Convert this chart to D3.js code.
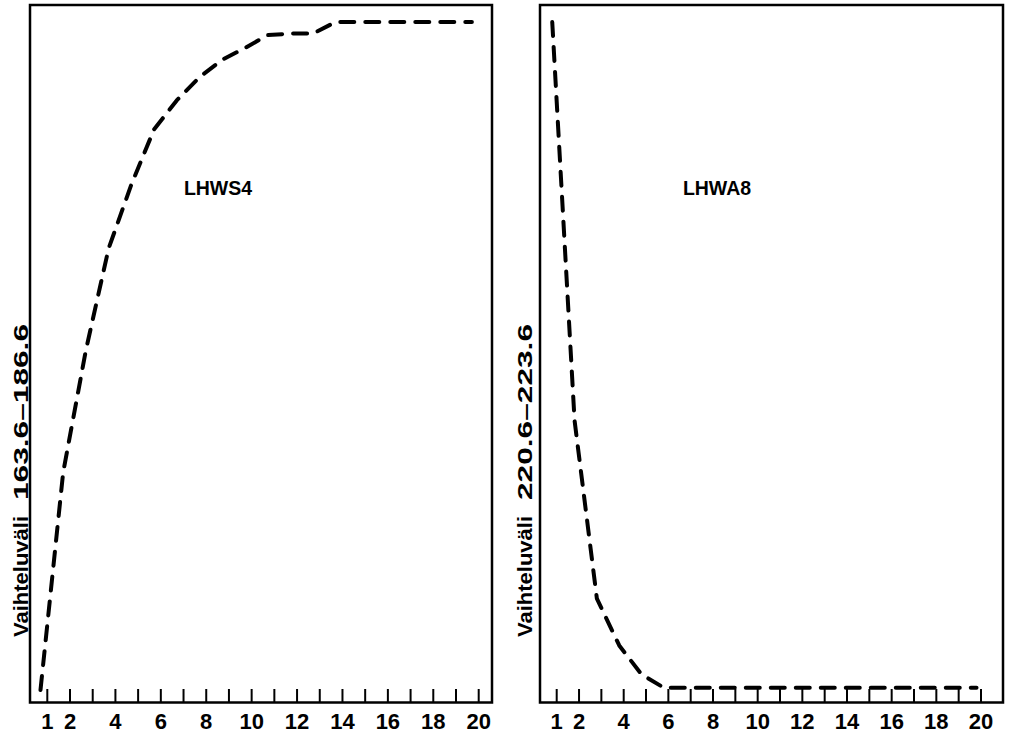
<!DOCTYPE html>
<html>
<head>
<meta charset="utf-8">
<script src="https://cdn.jsdelivr.net/npm/d3@7"></script>
<style>
  body { margin: 0; background: #fff; }
  svg { display: block; }
  text { font-family: "Liberation Sans", Arial, sans-serif; font-weight: bold; fill: #000; }
</style>
</head>
<body>
<svg id="chart"></svg>
<script>
// Two small panels: range of a measure vs. number of repeats (1..20)

var steps = d3.range(1, 21);
var tickLabels = [1, 2, 4, 6, 8, 10, 12, 14, 16, 18, 20];

// LHWS4, range 163.6-186.6
var lhws4 = [163.6, 171.1, 175.3, 178.8, 181.0, 182.9, 183.9, 184.7, 185.3, 185.7,
             186.15, 186.2, 186.2, 186.6, 186.6, 186.6, 186.6, 186.6, 186.6, 186.6];

// LHWA8, range 220.6-223.6
var lhwa8 = [223.6, 221.81, 221.01, 220.8, 220.67, 220.61, 220.61, 220.61, 220.61, 220.61,
             220.61, 220.61, 220.61, 220.61, 220.61, 220.61, 220.61, 220.61, 220.61, 220.61];

var panels = [
  { name: 'LHWS4', values: lhws4, domain: [163.6, 186.6], rangeText: '163.6\u2013186.6',
    left: 30, right: 492, x1: 47.3, x20: 478.7, shift: -0.3, titleX: 218, labelX: 28 },
  { name: 'LHWA8', values: lhwa8, domain: [220.6, 223.6], rangeText: '220.6\u2013223.6',
    left: 540, right: 1003, x1: 556.7, x20: 981, shift: -0.2, titleX: 717, labelX: 532 }
];

var width = 1009;
var height = 735;
var frameTop = 5;
var frameBottom = 702.5;

var svg = d3.select('#chart')
  .attr('width', width)
  .attr('height', height);

panels.forEach(function (p) {
  var x = d3.scaleLinear().domain([1, 20]).range([p.x1, p.x20]);
  var y = d3.scaleLinear().domain(p.domain).range([690, 22]);

  var g = svg.append('g');

  // frame
  g.append('rect')
    .attr('x', p.left)
    .attr('y', frameTop)
    .attr('width', p.right - p.left)
    .attr('height', frameBottom - frameTop)
    .attr('fill', 'none')
    .attr('stroke', '#000')
    .attr('stroke-width', 2.5);

  // ticks
  g.selectAll('.tick')
    .data(steps)
    .enter().append('line')
      .attr('class', 'tick')
      .attr('x1', function (d) { return x(d); })
      .attr('x2', function (d) { return x(d); })
      .attr('y1', frameBottom - 13.5)
      .attr('y2', frameBottom)
      .attr('stroke', '#000')
      .attr('stroke-width', 2);

  g.selectAll('.tlabel')
    .data(tickLabels)
    .enter().append('text')
      .attr('class', 'tlabel')
      .attr('x', function (d) { return x(d); })
      .attr('y', 728.5)
      .attr('text-anchor', 'middle')
      .style('font-size', '22px')
      .text(function (d) { return d; });

  // dashed curve
  var line = d3.line()
    .x(function (d, i) { return x(steps[i] + p.shift); })
    .y(function (d) { return y(d); });

  g.append('path')
    .datum(p.values)
    .attr('d', line)
    .attr('fill', 'none')
    .attr('stroke', '#000')
    .attr('stroke-width', 4)
    .attr('stroke-linecap', 'round')
    .attr('stroke-linejoin', 'round')
    .attr('stroke-dasharray', '14,11');

  // title
  g.append('text')
    .attr('x', p.titleX)
    .attr('y', 195)
    .attr('text-anchor', 'middle')
    .style('font-size', '19.5px')
    .text(p.name);

  // rotated y label, two parts
  g.append('text')
    .attr('transform', 'translate(' + p.labelX + ',637) rotate(-90)')
    .attr('textLength', 121)
    .attr('lengthAdjust', 'spacingAndGlyphs')
    .style('font-size', '21px')
    .text('Vaihteluv\u00e4li');

  g.append('text')
    .attr('transform', 'translate(' + p.labelX + ',500) rotate(-90)')
    .attr('textLength', 176)
    .attr('lengthAdjust', 'spacingAndGlyphs')
    .style('font-size', '21px')
    .text(p.rangeText);
});
</script>
</body>
</html>
